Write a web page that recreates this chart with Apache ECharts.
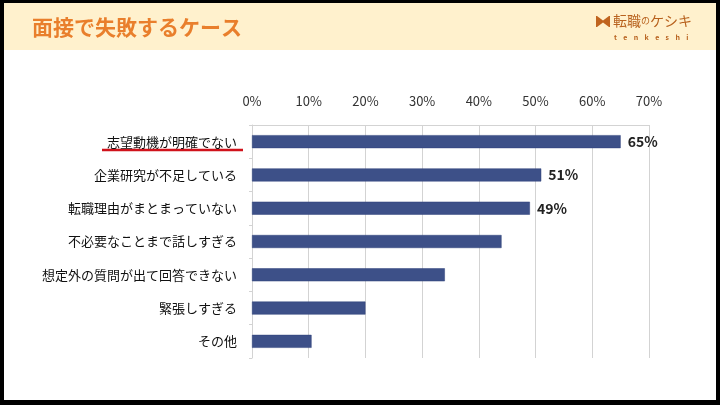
<!DOCTYPE html>
<html>
<head>
<meta charset="utf-8">
<script src="https://cdn.jsdelivr.net/npm/echarts@6/dist/echarts.min.js"></script>
<style>
html,body{margin:0;padding:0;background:#000;}
#chart{width:720px;height:405px;}
</style>
</head>
<body>
<div id="chart"></div>
<script>
const titleText = '面接で失敗するケース';
const categories = ['志望動機が明確でない','企業研究が不足している','転職理由がまとまっていない','不必要なことまで話しすぎる','想定外の質問が出て回答できない','緊張しすぎる','その他'];
const values = [65, 51, 49, 44, 34, 20, 10.5];
const labelTexts = ['65%', '51%', '49%'];
const xTicks = [0, 10, 20, 30, 40, 50, 60, 70];

const chart = echarts.init(document.getElementById('chart'));
const font = '"Noto Sans CJK JP", "Noto Sans", sans-serif';

chart.setOption({
  backgroundColor: '#000',
  animation: false,
  textStyle: { fontFamily: font },
  graphic: [
    { type: 'rect', z: -10, shape: { x: 4, y: 3, width: 712, height: 397 }, style: { fill: '#ffffff' } },
    { type: 'rect', z: -9, shape: { x: 4, y: 3, width: 712, height: 47 }, style: { fill: '#FFF1CD' } },
    { type: 'text', x: 32, y: 27, style: { text: titleText, fill: '#E97F2C', font: 'bold 21px ' + font, textVerticalAlign: 'middle' } },
    // logo icon
    { type: 'rect', shape: { x: 596, y: 16, width: 14, height: 11 }, style: { fill: '#C0641F' } },
    { type: 'polygon', shape: { points: [[597,16],[609,16],[603,20.5]] }, style: { fill: '#FFF1CD' } },
    { type: 'polygon', shape: { points: [[597,27],[609,27],[603,22.5]] }, style: { fill: '#FFF1CD' } },
    { type: 'text', x: 613, y: 21, style: {
        text: '{a|転職}{b|の}{a|ケシキ}',
        rich: { a: { fontSize: 14, fill: '#B8621E', fontFamily: font }, b: { fontSize: 9, fill: '#B8621E', fontFamily: font } },
        textVerticalAlign: 'middle' } },
    { type: 'text', x: 614, y: 37, style: { text: 't    e    n    k    e    s    h    i', fill: '#B8621E', font: 'bold 7px ' + font, textVerticalAlign: 'middle' } },
    // red underline under first label
    { type: 'line', shape: { x1: 102, y1: 150, x2: 243, y2: 150 }, style: { stroke: '#D0121B', lineWidth: 2.5 } }
  ],
  grid: { left: 252, right: 71, top: 125, bottom: 47, containLabel: false },
  xAxis: {
    type: 'value', position: 'top', min: xTicks[0], max: xTicks[xTicks.length - 1], interval: 10,
    axisLine: { show: true, lineStyle: { color: '#D3D3D3', width: 1 } },
    axisTick: { show: false },
    splitLine: { show: true, lineStyle: { color: '#D3D3D3', width: 1 } },
    axisLabel: { formatter: '{value}%', color: '#333', fontSize: 13, margin: 17, fontFamily: font }
  },
  yAxis: {
    type: 'category', inverse: true, data: categories,
    axisLine: { show: true, lineStyle: { color: '#D3D3D3', width: 1 } },
    axisTick: { show: true, length: 3, lineStyle: { color: '#D3D3D3' } },
    splitLine: { show: false },
    axisLabel: { color: '#111', fontSize: 13, margin: 15, fontFamily: font }
  },
  series: [{
    type: 'bar',
    barWidth: 13,
    itemStyle: { color: '#3D5088', borderColor: '#2F417A', borderWidth: 0.5 },
    data: values.map((v, i) => ({
      value: v,
      label: { show: i < labelTexts.length, position: 'right', distance: 7, formatter: labelTexts[i] || '', color: '#222', fontSize: 14, fontWeight: 'bold', fontFamily: font }
    }))
  }]
});
</script>
</body>
</html>
